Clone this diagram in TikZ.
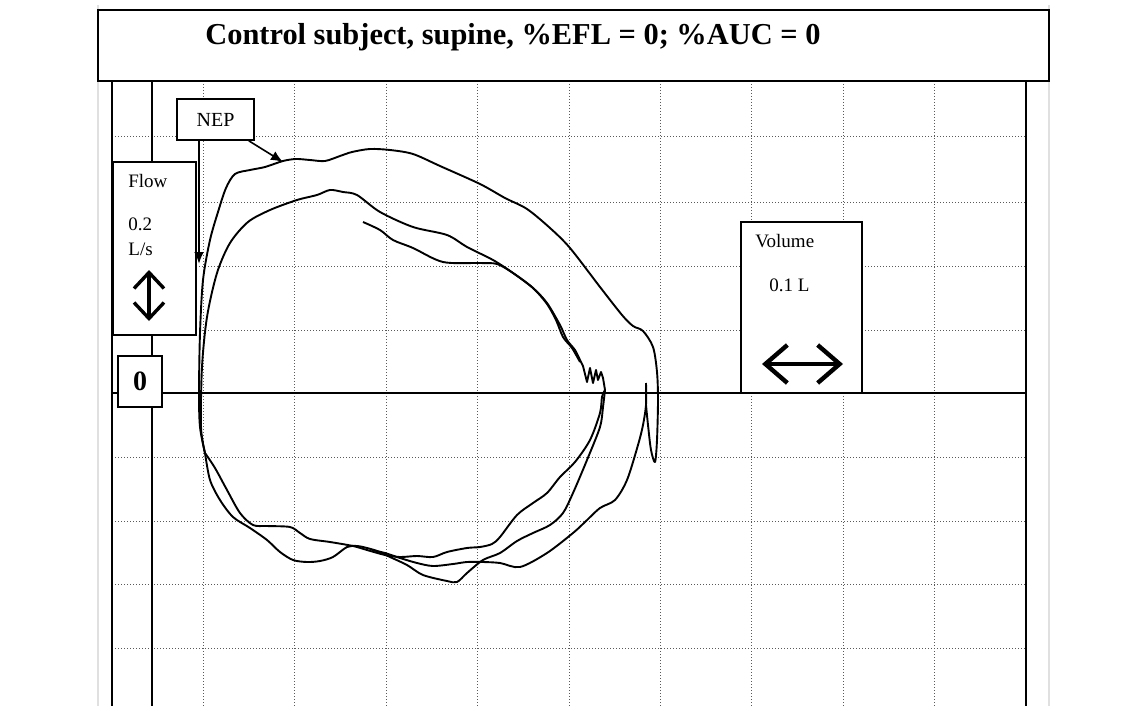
\documentclass[tikz,border=0pt]{standalone}
\usepackage{fontspec}
\setmainfont{Liberation Serif}
\usetikzlibrary{arrows.meta}

\tikzset{
  box/.style={draw, rectangle, fill=white, line width=0.8pt, inner sep=0pt},
  lbl/.style={anchor=base west, inner sep=0pt, font=\fontsize{9.5}{11}\selectfont},
  gridline/.style={densely dotted, line width=0.5pt, black!65},
  axis/.style={line width=0.8pt},
  trace/.style={line width=0.95pt, line join=round},
}

\begin{document}
\begin{tikzpicture}[x=0.5pt, y=-0.5pt]
        \useasboundingbox (0,0) rectangle (1140,706);

        % Frame of the figure
        \draw[black!12, line width=0.6pt] (98,5) -- (98,706);
        \draw[black!12, line width=0.6pt] (1049,5) -- (1049,706);

        % Grid
        \foreach \gx in {1,...,9}
            \draw[gridline] (112+91.4*\gx,81) -- (112+91.4*\gx,706);
        \foreach \gy in {137,202,266,330,457,521,584,648}
            \draw[gridline] (112,\gy) -- (1026,\gy);

        % Axes and borders
        \draw[axis] (112,81) -- (112,706);
        \draw[axis] (152,81) -- (152,706);
        \draw[axis] (1026,81) -- (1026,706);
        \draw[axis] (112,393) -- (1026,393);

        % Title
        \node[box, minimum width=475.5pt, minimum height=35.5pt] (titlebox) at (573.5,45.5) {};
        \node[anchor=base west, inner sep=0pt, font=\bfseries\fontsize{15.2}{18}\selectfont] (title) at (205,45)
            {Control subject, supine, \%EFL = 0; \%AUC = 0};

        % Flow scale
        \node[box, minimum width=41.5pt, minimum height=86.5pt] (flowbox) at (154.5,248.5) {};
        \node[lbl] (flowlbl) at (128,187) {Flow};
        \node[lbl] (flowval) at (128,230) {0.2};
        \node[lbl] (flowunit) at (128,255) {L/s};
        \draw[line width=1.7pt, {Straight Barb[length=8pt,width=15pt]}-{Straight Barb[length=8pt,width=15pt]}]
            (149,270) -- (149,321);

        % Zero of flow
        \node[box, minimum width=22pt, minimum height=25.5pt, font=\bfseries\fontsize{14}{16}\selectfont] (zerobox) at (140,381.5) {0};

        % Volume scale
        \node[box, minimum width=60.5pt, minimum height=85.5pt] (volbox) at (801.5,307.5) {};
        \node[lbl] (vollbl) at (755,247) {Volume};
        \node[lbl] (volval) at (769,291) {0.1 L};
        \draw[line width=2.2pt, {Straight Barb[length=11pt,width=19pt]}-{Straight Barb[length=11pt,width=19pt]}]
            (762,364) -- (843,364);

        % NEP label
        \node[box, minimum width=38.5pt, minimum height=20.5pt, font=\fontsize{10}{12}\selectfont] (nepbox) at (215.5,119.5) {NEP};
        \coordinate (neptop) at (283,162);
        \coordinate (nepleft) at (199,264);
        \draw[line width=0.8pt, -{Latex[length=6pt,width=5pt]}] ([xshift=-3pt]nepbox.south east) -- (neptop);
        \draw[line width=1.2pt, -{Latex[length=6pt,width=5pt]}] (nepbox.south -| nepleft) -- (nepleft);

        % Outer loop, upper part and right spike
        \draw[trace] plot[smooth, tension=0.5] coordinates {
            (205,453) (200,427) (199,393) (200,333) (203,280) (210,240) (218,212) (226,188)
            (235,174) (250,170) (265,167) (283,161) (296,159) (310,160) (325,161) (340,156)
            (352,152) (370,149) (390,150) (413,154) (440,166) (480,184) (505,198) (527,209)
            (550,228) (570,248) (600,287) (622,315) (633,326) (643,331) (653,347) (657,372)
            (658,400) (657,440) (655,462) (651,450) (648,425) (646,405)};

        % Inner loop, upper part
        \draw[trace] plot[smooth, tension=0.5] coordinates {
            (205,453) (201,427) (202,367) (207,317) (217,273) (230,243) (248,222) (270,210)
            (297,200) (317,195) (330,190) (343,192) (357,195) (380,212) (413,227) (447,235)
            (467,247) (493,260) (513,273) (533,288) (547,303) (560,325) (567,340) (575,350)
            (580,360)}
            -- (583,366) -- (587,382) -- (590,368) -- (593,383) -- (596,370) -- (598,380)
            -- (601,372) -- (603,378) -- (605,390);

        % Third breath, upper part
        \draw[trace] plot[smooth, tension=0.5] coordinates {
            (363,222) (380,230) (393,240) (413,248) (443,262) (480,263) (497,264) (513,273)
            (533,288) (547,304) (556,320) (563,337) (572,348) (580,362)};

        % Lower parts
        \draw[trace] plot[smooth, tension=0.5] coordinates {
            (605,390) (602,397) (600,413) (590,440) (575,462) (560,477) (547,493) (533,503)
            (517,515) (500,537) (492,544) (480,547) (467,548) (447,552) (433,557) (417,556)
            (400,557) (385,555) (367,550) (353,546) (330,542) (310,539) (300,533) (290,527)
            (267,526) (253,525) (240,513) (227,490) (215,468) (205,453)};
        \draw[trace] plot[smooth, tension=0.5] coordinates {
            (605,390) (603,407) (600,427) (587,460) (573,493) (563,513) (550,525) (533,533)
            (517,541) (500,553) (483,560) (467,573) (457,582) (447,581) (423,575) (407,565)
            (390,557) (377,551) (367,548) (357,546) (347,547) (333,557) (320,561) (307,562)
            (293,560) (280,552) (267,540) (250,528) (233,517) (220,500) (210,480) (205,453)};
        \draw[trace] plot[smooth, tension=0.5] coordinates {
            (646,383) (646,405) (643,425) (638,445) (627,480) (615,500) (600,508) (585,522)
            (573,533) (547,553) (520,567) (500,563) (483,562) (467,562) (453,564) (433,566)
            (417,563) (400,558) (385,553) (372,550)};
    \end{tikzpicture}
\end{document}
